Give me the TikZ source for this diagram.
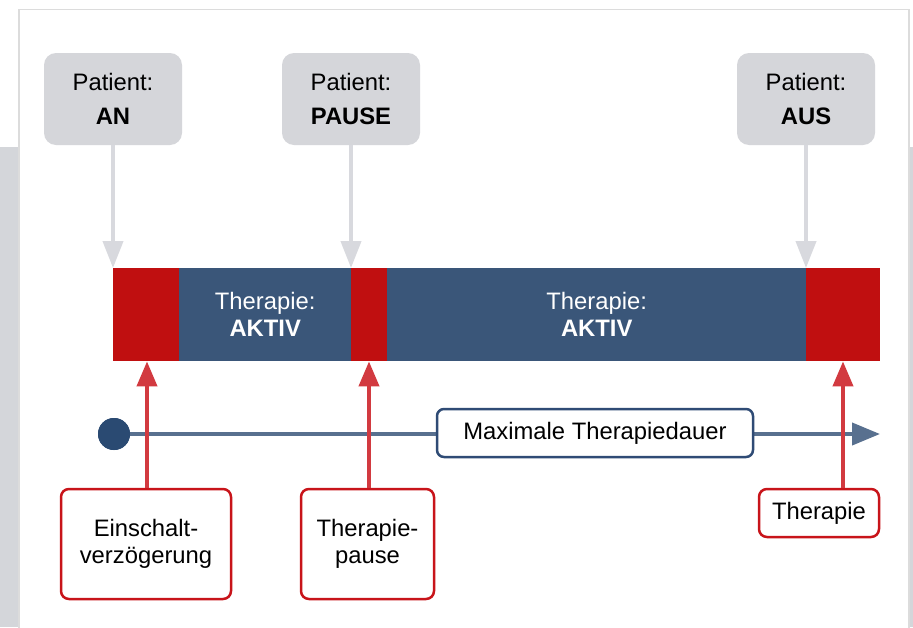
\documentclass[tikz,border=0pt]{standalone}
\usepackage{fontspec}
\setmainfont{Liberation Sans}
\usetikzlibrary{arrows.meta,calc}
\definecolor{panelborder}{HTML}{DCDCDC}
\definecolor{strip}{HTML}{D4D6DA}
\definecolor{patfill}{HTML}{D5D6DA}
\definecolor{grayarr}{HTML}{D8D9DE}
\definecolor{barred}{HTML}{C00F10}
\definecolor{barblue}{HTML}{3A5679}
\definecolor{tline}{HTML}{58708F}
\definecolor{tdot}{HTML}{2A4A72}
\definecolor{redarr}{HTML}{D23A40}
\definecolor{redbox}{HTML}{C8141A}
\definecolor{maxborder}{HTML}{2F4B75}
\tikzset{
  txt/.style={font=\fontsize{23.8}{34}\selectfont, align=center, text=black},
  patbox/.style={txt, rectangle, rounded corners=12pt, fill=patfill, minimum width=138pt, minimum height=92pt, inner sep=0pt},
  seg/.style={rectangle, inner sep=0pt, minimum height=93pt, anchor=north west},
  redseg/.style={seg, fill=barred},
  blueseg/.style={seg, fill=barblue, text=white, font=\fontsize{23.8}{27}\selectfont, align=center},
  grayarrow/.style={draw=grayarr, line width=4pt, -{Triangle[length=27pt,width=20pt]}, color=grayarr},
  redarrow/.style={draw=redarr, line width=4pt, -{Triangle[length=25pt,width=20pt]}, color=redarr},
  redbx/.style={font=\fontsize{23.8}{27}\selectfont, align=center, rectangle, rounded corners=8pt, draw=redbox, line width=2.5pt, fill=white, inner sep=0pt},
  maxbx/.style={font=\fontsize{23.8}{27}\selectfont, rectangle, rounded corners=7pt, draw=maxborder, line width=2.5pt, fill=white, inner sep=0pt, minimum width=316pt, minimum height=48pt},
}
\begin{document}
\begin{tikzpicture}[x=1pt,y=-1pt]
\useasboundingbox (0,0) rectangle (913,627);
% background panel
\fill[white] (0,0) rectangle (913,627);
\fill[strip] (0,147) rectangle (18,627);
\fill[strip] (910,147) rectangle (913,627);
\draw[panelborder, line width=1.5pt, fill=white] (19,640) -- (19,9.5) -- (909,9.5) -- (909,640);

% patient boxes
\node[patbox] (pAN) at (113,99) {Patient:\\\textbf{AN}};
\node[patbox] (pPAUSE) at (351,99) {Patient:\\\textbf{PAUSE}};
\node[patbox] (pAUS) at (806,99) {Patient:\\\textbf{AUS}};

% bar segments
\node[redseg, minimum width=66pt] (seg1) at (113,268) {};
\node[blueseg, minimum width=172pt] (seg2) at (179,268) {Therapie:\\\textbf{AKTIV}};
\node[redseg, minimum width=36pt] (seg3) at (351,268) {};
\node[blueseg, minimum width=419pt] (seg4) at (387,268) {Therapie:\\\textbf{AKTIV}};
\node[redseg, minimum width=74pt] (seg5) at (806,268) {};

% gray arrows
\draw[grayarrow] (pAN.south) -- (pAN.south |- seg1.north);
\draw[grayarrow] (pPAUSE.south) -- (pPAUSE.south |- seg1.north);
\draw[grayarrow] (pAUS.south) -- (pAUS.south |- seg1.north);

% timeline
\node[circle, fill=tdot, minimum size=32pt, inner sep=0pt] (dot) at (114,434) {};
\coordinate (tend) at (880,434);
\draw[tline, line width=4pt, -{Triangle[length=28pt,width=22pt]}] (dot.center) -- (tend);
\fill[tdot] (dot) circle (16pt);
\node[maxbx] (maxb) at (595,433) {Maximale Therapiedauer};

% bottom boxes
\node[redbx, minimum width=170pt, minimum height=110pt] (eb) at (146,544) {Einschalt-\\verzögerung};
\node[redbx, minimum width=133pt, minimum height=110pt] (pb) at (367.5,544) {Therapie-\\pause};
\node[redbx, minimum width=120pt, minimum height=48pt] (tb) at (819,513) {Therapie};

% red arrows
\coordinate (r1) at (147,0);
\coordinate (r2) at (369,0);
\coordinate (r3) at (843,0);
\draw[redarrow] (eb.north -| r1) -- (seg1.south -| r1);
\draw[redarrow] (pb.north -| r2) -- (seg1.south -| r2);
\draw[redarrow] (tb.north -| r3) -- (seg1.south -| r3);
\end{tikzpicture}
\end{document}
